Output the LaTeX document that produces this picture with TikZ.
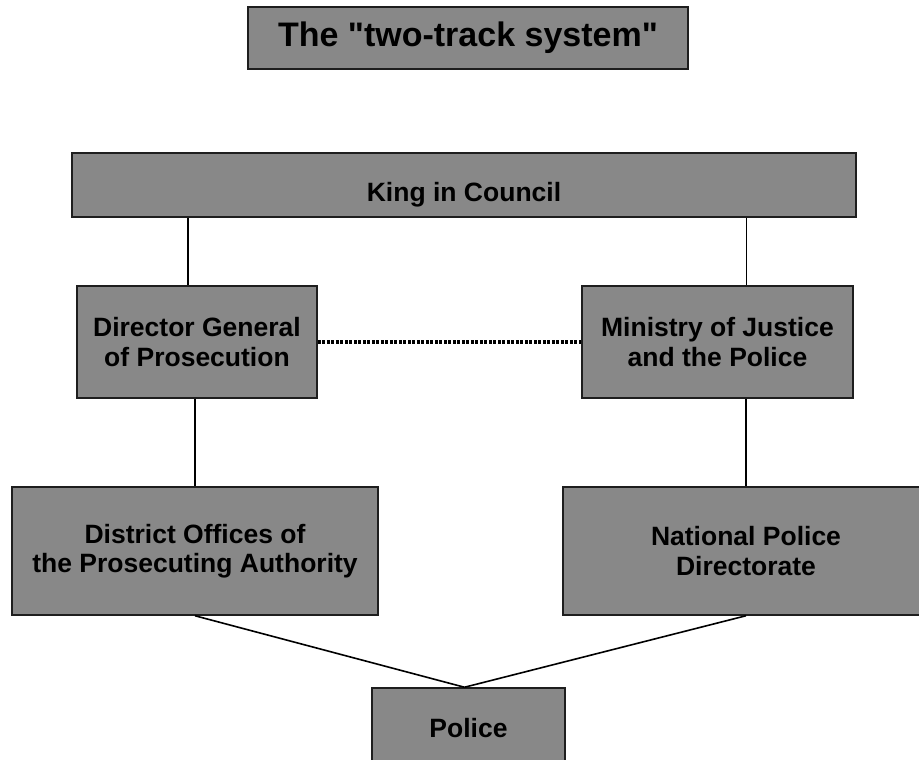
\documentclass[tikz,border=0pt]{standalone}
\usepackage{fontspec}
\setmainfont{Liberation Sans}
\usepackage{xcolor}
\definecolor{boxgray}{HTML}{888888}
\definecolor{boxline}{HTML}{1E1E1E}
\usetikzlibrary{calc}
\tikzset{
  orgbox/.style={
    rectangle, draw=boxline, line width=1.5pt, fill=boxgray,
    align=center, inner sep=0pt,
    font=\fontsize{26.5}{29.5}\selectfont\bfseries
  },
  titlebox/.style={
    orgbox, font=\fontsize{34}{40}\selectfont\bfseries
  },
  link/.style={line width=1.6pt, draw=black},
  peerlink/.style={line width=3.5pt, draw=black, dash pattern=on 3pt off 1.5pt}
}

\begin{document}
\begin{tikzpicture}[x=1pt,y=-1pt]

  \useasboundingbox (0,0) rectangle (919,760);

  % Title
  \node[titlebox, minimum width=440, minimum height=62] (title) at (468,38)
  {The \textquotedbl two-track system\textquotedbl};

  % Top
  \node[orgbox, minimum width=784, minimum height=64] (king) at (464,185)
  {\raisebox{-17pt}[0pt][0pt]{King in Council}};

  % Second row
  \node[orgbox, minimum width=240, minimum height=112] (dg) at (197,342)
  {Director General\\ of Prosecution};

  \node[orgbox, minimum width=271, minimum height=112] (moj) at (717.5,342)
  {Ministry of Justice\\ and the Police};

  % Third row
  \node[orgbox, minimum width=366, minimum height=128] (district) at (195,551)
  {District Offices of\\ the Prosecuting Authority};

  \node[orgbox, minimum width=366, minimum height=128] (npd) at (746,551)
  {National Police\\ Directorate};

  % Bottom
  \node[orgbox, minimum width=193, minimum height=80] (police) at (468.5,728)
  {Police};

  % Helper points on the upper edges
  \coordinate (dgtop) at ($(dg.north)+(-9,0)$);
  \coordinate (mojtop) at ($(moj.north)+(29,0)$);

  % Edges
  \draw[link] (dgtop) -- (dgtop |- king.south);
  \draw[link] (mojtop) -- (mojtop |- king.south);

  \draw[peerlink] (dg.east) -- (moj.west);

  \draw[link] (dg.south -| district.north) -- (district.north);
  \draw[link] (moj.south -| npd.north) -- (npd.north);

  \draw[link] (district.south) -- ([xshift=-4pt]police.north);
  \draw[link] (npd.south) -- ([xshift=-4pt]police.north);

\end{tikzpicture}
\end{document}
